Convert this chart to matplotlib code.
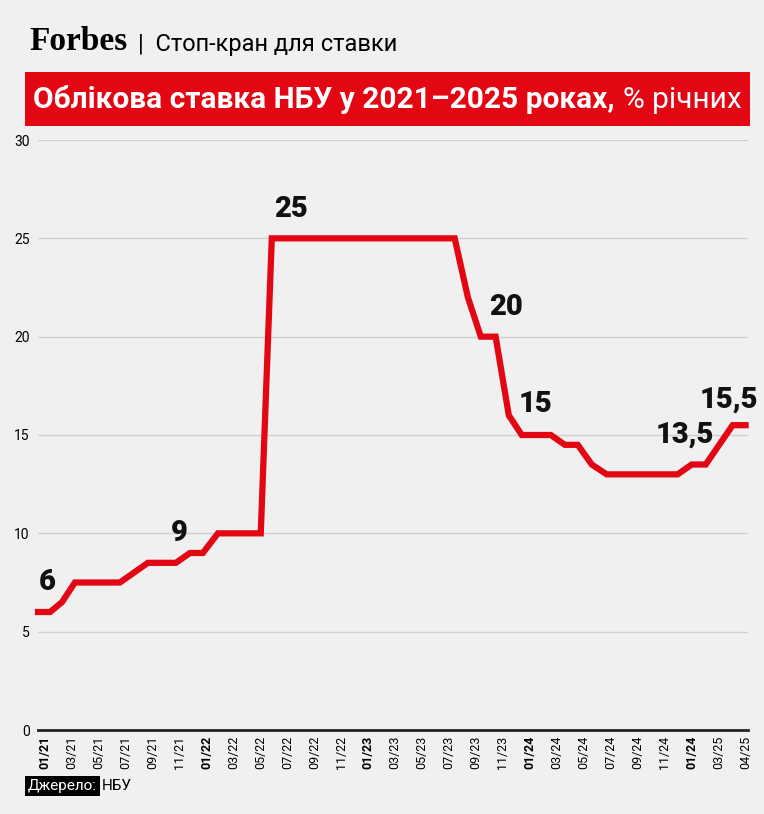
import matplotlib
matplotlib.use("Agg")
import matplotlib.pyplot as plt
from matplotlib.patches import Rectangle

plt.rcParams['font.family'] = ['Roboto', 'DejaVu Sans']

tick_labels = ["01/21","03/21","05/21","07/21","09/21","11/21",
               "01/22","03/22","05/22","07/22","09/22","11/22",
               "01/23","03/23","05/23","07/23","09/23","11/23",
               "01/24","03/24","05/24","07/24","09/24","11/24",
               "01/24","03/25","04/25"]
bold_idx = [0, 6, 12, 18, 24]

# line vertices in tick-index units
x_pos = [-0.26, 0.19, 0.63, 1.11, 2.78, 3.82, 4.86, 5.38, 5.86, 6.42, 8.01, 8.42,
         15.21, 15.70, 16.18, 16.73, 17.22, 17.70, 18.78, 19.30, 19.78, 20.30, 20.85,
         23.49, 24.01, 24.53, 25.53, 26.01]
rate = [6, 6, 6.5, 7.5, 7.5, 8.5, 8.5, 9, 9, 10, 10, 25,
        25, 22, 20, 20, 16, 15, 15, 14.5, 14.5, 13.5, 13,
        13, 13.5, 13.5, 15.5, 15.5]
ann_x = [0.1, 5.0, 9.15, 17.1, 18.2, 23.75, 25.4]
ann_y = [7.5, 10.0, 26.5, 21.5, 16.6, 15.0, 16.8]
ann_t = ["6", "9", "25", "20", "15", "13,5", "15,5"]

fig = plt.figure(figsize=(7.64, 8.14), dpi=100)
fig.patch.set_facecolor('#f0f0f0')
ax = fig.add_axes([38/764, 1-730/814, 710/764, 590/814])
ax.set_facecolor('#f0f0f0')
ax.plot(x_pos, rate, color='#e30613', lw=4.5, solid_joinstyle='miter', clip_on=False, zorder=3)
for x, y, t in zip(ann_x, ann_y, ann_t):
    ax.text(x, y, t, fontsize=21, fontweight='heavy', ha='center', va='center', color='#111')
ax.set_ylim(0, 30)
ax.set_xlim(-0.26, 26.1)
ax.set_yticks([0, 5, 10, 15, 20, 25, 30])
ax.yaxis.grid(True, color='#d0d0d0', lw=1)
ax.set_axisbelow(True)
for s in ['top', 'right', 'left']:
    ax.spines[s].set_visible(False)
ax.spines['bottom'].set_color('#222')
ax.spines['bottom'].set_linewidth(2)
ax.tick_params(axis='y', length=0, labelsize=10, pad=6)
ax.set_xticks(range(len(tick_labels)))
ax.set_xticklabels(tick_labels, rotation=90, fontsize=9)
for i, lab in enumerate(ax.get_xticklabels()):
    if i in bold_idx:
        lab.set_fontweight('bold')
ax.tick_params(axis='x', length=0, pad=4)

fig.text(29/764, 1-42/814, "Forbes", family='Liberation Serif', fontsize=24, fontweight='bold', va='center')
fig.text(138/764, 1-44/814, "|  Стоп-кран для ставки", fontsize=17, va='center')
fig.patches.append(Rectangle((25/764, 1-126/814), 725/764, 54/814, transform=fig.transFigure,
                             facecolor='#e30613', edgecolor='none'))
fig.text(33/764, 1-100/814, "Облікова ставка НБУ у 2021–2025 роках,", fontsize=21.5, fontweight='bold',
         color='white', va='center')
fig.text(742/764, 1-100/814, "% річних", fontsize=21.5, color='white', va='center', ha='right')
fig.text(28/764, 1-786/814, "Джерело:", fontsize=11, color='white', va='center',
         bbox=dict(facecolor='black', edgecolor='none', pad=2))
fig.text(102/764, 1-786/814, "НБУ", fontsize=11, color='black', va='center')
fig.savefig('out.png', dpi=100, facecolor=fig.get_facecolor())
